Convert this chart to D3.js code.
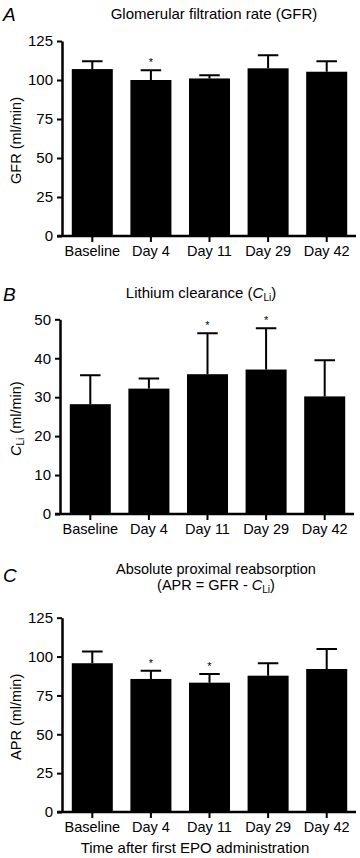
<!DOCTYPE html>
<html>
<head>
<meta charset="utf-8">
<script src="https://cdn.jsdelivr.net/npm/d3@7"></script>
<style>
  html, body { margin: 0; padding: 0; background: #fff; }
  svg { display: block; font-family: "Liberation Sans", Arial, Helvetica, sans-serif; }
</style>
</head>
<body>
<svg id="chart" width="360" height="858"></svg>
<script>
const categories = ['Baseline', 'Day 4', 'Day 11', 'Day 29', 'Day 42'];

// GFR (ml/min)
const gfrMean = [107, 100, 101, 107.5, 105.3];
const gfrErr = [5, 6.2, 2, 8.3, 6.7];
const gfrStar = [false, true, false, false, false];
const gfrTicks = [0, 25, 50, 75, 100, 125];

// Lithium clearance (ml/min)
const cliMean = [28.2, 32.2, 35.9, 37.1, 30.2];
const cliErr = [7.4, 2.6, 10.5, 10.6, 9.3];
const cliStar = [false, false, true, true, false];
const cliTicks = [0, 10, 20, 30, 40, 50];

// APR (ml/min)
const aprMean = [95.7, 85.6, 83.2, 87.7, 92];
const aprErr = [7.5, 5.3, 5.6, 8, 12.9];
const aprStar = [false, true, true, false, false];
const aprTicks = [0, 25, 50, 75, 100, 125];

const svg = d3.select('#chart');

// parts: [text, italic, subscript]
function richText(sel, parts) {
  let wasSub = false;
  parts.forEach(([s, it, sub]) => {
    const ts = sel.append('tspan').text(s);
    if (it) ts.attr('font-style', 'italic');
    if (sub) { ts.attr('font-size', '10px').attr('dy', '3'); wasSub = true; }
    else if (wasSub) { ts.attr('dy', '-3'); wasSub = false; }
  });
}

function drawPanel(p) {
  const x = d3.scaleBand().domain(categories)
    .range([p.axisX + 1, p.axisX + 294])
    .paddingInner(0.3).paddingOuter(0.15);
  const y = d3.scaleLinear().domain([0, d3.max(p.ticks)]).range([p.y0, p.yTop]);
  const rows = categories.map((c, i) => ({ c, m: p.mean[i], e: p.err[i], s: p.star[i] }));
  const g = svg.append('g');

  // Panel letter
  g.append('text').attr('x', 3).attr('y', p.letterY)
    .attr('font-size', '19px').attr('font-style', 'italic')
    .text(p.letter);

  // Title (one or two lines)
  p.title.forEach((line, li) => {
    const t = g.append('text').attr('x', p.titleX).attr('y', p.titleY + li * 16)
      .attr('text-anchor', 'middle').attr('font-size', p.titleSize || '14.5px');
    if (typeof line === 'string') t.text(line);
    else richText(t, line);
  });

  // Bars
  g.selectAll('.bar').data(rows).join('rect')
    .attr('x', d => x(d.c)).attr('width', x.bandwidth())
    .attr('y', d => y(d.m)).attr('height', d => y(0) - y(d.m))
    .attr('fill', '#000');

  // Error bars (upper only)
  const cap = x.bandwidth() / 2;
  g.selectAll('.err').data(rows).join('path')
    .attr('d', d => {
      const cx = x(d.c) + x.bandwidth() / 2;
      return `M${cx},${y(d.m)}V${y(d.m + d.e)}M${cx - cap / 2},${y(d.m + d.e)}H${cx + cap / 2}`;
    })
    .attr('stroke', '#000').attr('stroke-width', 2).attr('fill', 'none');

  // Significance stars
  g.selectAll('.star').data(rows.filter(d => d.s)).join('text')
    .attr('x', d => x(d.c) + x.bandwidth() / 2)
    .attr('y', d => y(d.m + d.e) - 4)
    .attr('text-anchor', 'middle').attr('font-size', '11px')
    .text('*');

  // Y axis
  g.append('g').attr('transform', `translate(${p.axisX},0)`)
    .call(d3.axisLeft(y).tickValues(p.ticks).tickSize(5).tickSizeOuter(0).tickPadding(4))
    .call(a => a.select('.domain').attr('stroke-width', 2.5))
    .call(a => a.selectAll('.tick line').attr('stroke-width', 2))
    .call(a => a.selectAll('.tick text').attr('font-size', '15px').attr('fill', '#000')
      .attr('font-family', null));

  // X axis
  g.append('g').attr('transform', `translate(0,${p.y0})`)
    .call(d3.axisBottom(x).tickSize(6).tickSizeOuter(0).tickPadding(4))
    .call(a => a.select('.domain')
      .attr('d', `M${p.axisX - 5},0H${x.range()[1]}`).attr('stroke-width', 2.5))
    .call(a => a.selectAll('.tick line').attr('stroke-width', 2))
    .call(a => a.selectAll('.tick text').attr('font-size', '14.5px').attr('fill', '#000')
      .attr('font-family', null));

  // Y label
  const yl = g.append('text')
    .attr('transform', `translate(${p.ylabX},${(p.y0 + p.yTop) / 2 + 2}) rotate(-90)`)
    .attr('text-anchor', 'middle').attr('font-size', '14.5px');
  richText(yl, p.ylab);

  return g;
}

drawPanel({
  letter: 'A', letterY: 21, axisX: 62, yTop: 41, y0: 236,
  title: ['Glomerular filtration rate (GFR)'], titleX: 214, titleY: 19, titleSize: '15px',
  mean: gfrMean, err: gfrErr, star: gfrStar, ticks: gfrTicks,
  ylab: [['GFR (ml/min)']], ylabX: 21
});

drawPanel({
  letter: 'B', letterY: 301, axisX: 60, yTop: 319.3, y0: 514,
  title: [[['Lithium clearance ('], ['C', true], ['Li', false, true], [')']]],
  titleX: 201, titleY: 298, titleSize: '15px',
  mean: cliMean, err: cliErr, star: cliStar, ticks: cliTicks,
  ylab: [['C', true], ['Li', false, true], [' (ml/min)']], ylabX: 21
});

const c = drawPanel({
  letter: 'C', letterY: 582, axisX: 62, yTop: 617.7, y0: 812,
  title: ['Absolute proximal reabsorption', [['(APR = GFR - '], ['C', true], ['Li', false, true], [')']]],
  titleX: 216, titleY: 574, titleSize: '14.5px',
  mean: aprMean, err: aprErr, star: aprStar, ticks: aprTicks,
  ylab: [['APR (ml/min)']], ylabX: 21
});

// X axis title
c.append('text').attr('x', 195).attr('y', 853)
  .attr('text-anchor', 'middle').attr('font-size', '15px')
  .text('Time after first EPO administration');
</script>
</body>
</html>
